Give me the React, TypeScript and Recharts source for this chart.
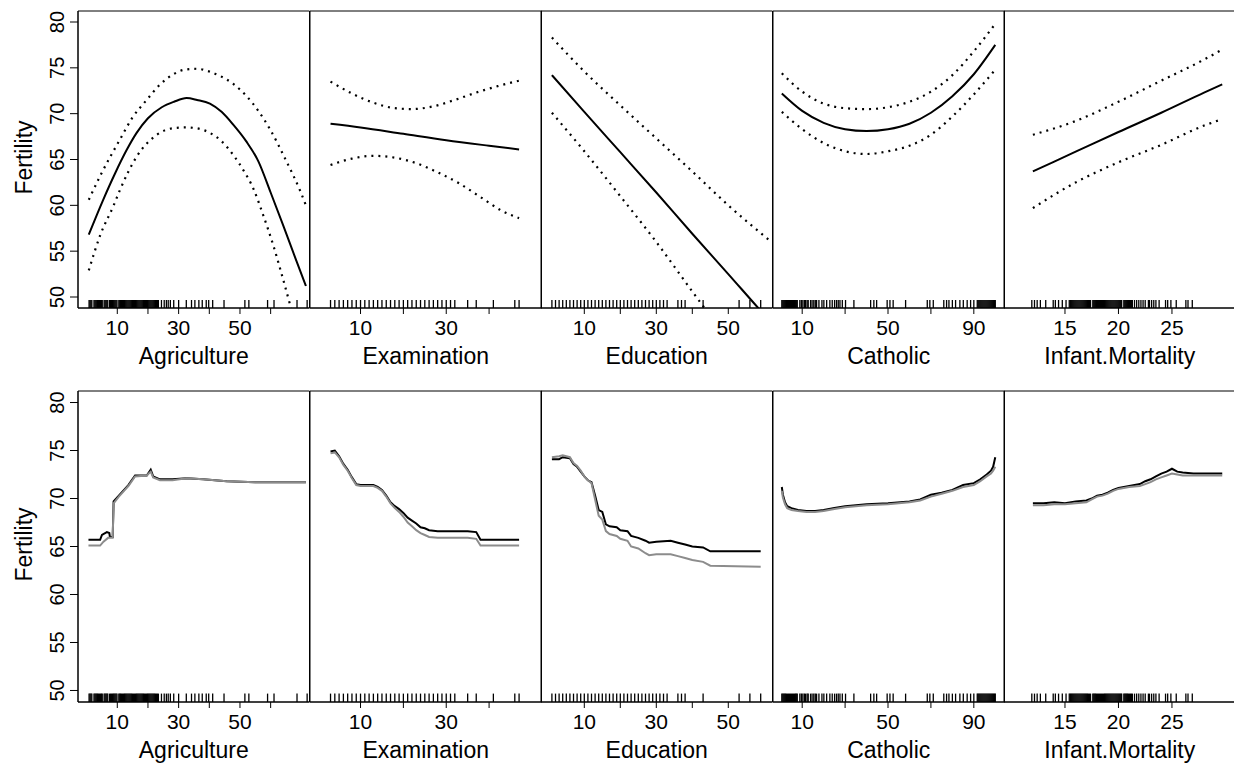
import React from 'react';
import { ComposedChart, Line, XAxis, YAxis, ReferenceArea, ReferenceLine, Label } from 'recharts';

type Pt = [number, number];

// ---------- axis content ----------
const yTicks = [50, 55, 60, 65, 70, 75, 80];
const yDomain: [number, number] = [48.8, 81.2];
const yTitle = 'Fertility';
const variableNames = ['Agriculture', 'Examination', 'Education', 'Catholic', 'Infant.Mortality'];
const xDomains: [number, number][] = [[-2.81, 72.67], [-1.79, 52.23], [-2.03, 62.28], [-3.61, 104.3], [9.3, 30.94]];
const xTicks = [[10, 20, 30, 40, 50, 60], [10, 20, 30, 40], [10, 20, 30, 40, 50], [10, 30, 50, 70, 90], [15, 20, 25]];
const xTickLabels = [[10, 30, 50], [10, 30], [10, 30, 50], [10, 50, 90], [15, 20, 25]];

// ---------- rug values ----------
const rugAgriculture = [0.8, 1.1, 1.4, 1.7, 2.4, 2.7, 3.0, 3.3, 3.6, 3.9, 4.2, 4.5, 4.8, 5.1, 5.7, 6.0, 6.3, 6.6, 6.9, 7.5, 7.8, 8.1, 8.4, 8.7, 9.0, 9.3, 9.6, 9.9, 10.5, 10.8, 11.1, 11.4, 11.7, 12.0, 12.3, 12.6, 12.9, 13.2, 13.5, 13.8, 14.1, 14.4, 14.7, 15.0, 15.3, 15.6, 15.9, 16.2, 16.5, 16.8, 17.1, 17.4, 17.7, 18.0, 18.3, 18.6, 18.9, 19.2, 19.5, 19.8, 20.1, 20.4, 20.7, 21.0, 21.3, 21.6, 21.9, 22.2, 22.5, 22.8, 23.1, 23.4, 24.4, 25.3, 26.0, 26.6, 27.3, 28.4, 30.0, 32.5, 34.2, 35.3, 36.6, 37.7, 39.0, 39.8, 41.1, 44.8, 51.6, 52.9, 59.0, 61.1, 68.6, 71.9];
const rugExamination = [3, 4, 5, 6, 7, 8, 9, 10, 11, 12, 13, 14, 15, 16, 17, 18, 19, 20, 21, 22, 23, 24, 25, 26, 27, 28, 29, 30, 31, 32, 35, 37, 41, 46, 47];
const rugEducation = [1, 2, 3, 4, 5, 6, 7, 8, 9, 10, 11, 12, 13, 14, 15, 16, 17, 18, 19, 20, 21, 22, 23, 24, 25, 26, 27, 28, 29, 30, 31, 32, 33, 36, 37, 38, 43, 53, 56, 59];
const rugCatholic = [0.5, 0.95, 1.4, 1.85, 2.3, 2.75, 3.2, 3.65, 4.1, 4.55, 5.0, 5.45, 5.9, 6.35, 6.8, 7.25, 7.7, 8.9, 9.6, 10.3, 11.0, 11.6, 12.3, 12.8, 13.9, 14.6, 15.4, 16.1, 16.7, 17.8, 19.2, 20.1, 21.4, 22.9, 24.0, 25.1, 26.0, 26.8, 27.6, 28.7, 30.2, 34.1, 41.9, 43.4, 44.7, 49.6, 50.9, 52.4, 58.2, 68.3, 69.5, 71.1, 76.0, 77.3, 78.4, 80.0, 81.5, 83.5, 85.1, 86.9, 88.5, 90.0, 91.6, 92.05, 92.5, 92.95, 93.4, 93.85, 94.3, 94.75, 95.2, 95.65, 96.1, 96.55, 97.0, 97.45, 97.9, 98.35, 98.8, 99.25, 99.7, 100.0];
const rugInfantMortality = [11.9, 12.15, 12.4, 12.7, 13.2, 13.9, 14.1, 14.4, 14.75, 15.1, 15.4, 15.5, 15.59, 15.68, 15.77, 15.86, 15.95, 16.04, 16.13, 16.22, 16.31, 16.4, 16.49, 16.58, 16.67, 16.76, 16.85, 16.94, 17.03, 17.12, 17.21, 17.3, 17.39, 17.6, 17.69, 17.78, 17.87, 17.96, 18.05, 18.14, 18.23, 18.32, 18.41, 18.5, 18.59, 18.68, 18.77, 18.86, 18.95, 19.04, 19.13, 19.22, 19.31, 19.4, 19.49, 19.58, 19.67, 19.76, 19.85, 19.94, 20.03, 20.12, 20.21, 20.3, 20.5, 20.59, 20.68, 20.77, 20.86, 20.95, 21.04, 21.13, 21.22, 21.3, 21.5, 21.7, 21.9, 22.1, 22.3, 22.5, 22.8, 22.9, 23.1, 23.3, 23.5, 23.8, 24.4, 24.6, 24.9, 25.4, 26.3, 26.5, 26.9];

// ---------- top row: fitted effect with bands ----------
const agriFit: Pt[] = [[0.7, 56.8], [5.4, 60.6], [9.3, 63.5], [13, 66], [16.3, 67.9], [20, 69.5], [24.5, 70.7], [28.5, 71.3], [32.6, 71.7], [36, 71.5], [40.2, 71.1], [44, 70.2], [47.8, 68.8], [52, 67.0], [56, 64.8], [60, 61.4], [64, 57.9], [68, 54.3], [71.5, 51.2]];
const agriUpper: Pt[] = [[0.7, 60.6], [4.4, 63.2], [10.9, 67.2], [15, 69.6], [19.6, 71.5], [24, 73.2], [28.3, 74.3], [32, 74.8], [35.9, 74.9], [40, 74.6], [43.6, 74.1], [48, 73.2], [52.2, 71.9], [56, 70.3], [59.8, 68.3], [65, 64.9], [69.6, 61.6], [71.5, 60.0]];
const agriLower: Pt[] = [[0.7, 52.9], [4.5, 56.8], [8.7, 59.9], [10.9, 61.7], [16.3, 65.3], [22.9, 67.7], [28, 68.4], [32.6, 68.5], [36, 68.4], [40.2, 67.9], [44, 67], [47.8, 65.5], [51, 63.9], [54.4, 61.8], [57.5, 59.0], [60.9, 55.6], [63.5, 52.6], [66.3, 49.2], [71.5, 42.5]];

const examFit: Pt[] = [[3, 68.9], [10, 68.5], [20, 67.8], [30, 67.1], [40, 66.5], [47, 66.1]];
const examUpper: Pt[] = [[3, 73.5], [8, 72.2], [13, 71.2], [18, 70.6], [22, 70.5], [27, 70.8], [32, 71.5], [37, 72.3], [42, 73.0], [47, 73.6]];
const examLower: Pt[] = [[3, 64.4], [8, 65.1], [13, 65.4], [18, 65.2], [23, 64.6], [28, 63.6], [33, 62.4], [38, 60.9], [43, 59.4], [47, 58.6]];

const eduFit: Pt[] = [[1, 74.2], [10, 70.2], [20, 65.8], [30, 61.4], [40, 56.9], [50, 52.5], [59, 48.5], [62, 47.2]];
const eduUpper: Pt[] = [[1, 78.3], [10, 74.6], [20, 70.9], [30, 67.3], [40, 63.7], [50, 60.0], [62, 56.0]];
const eduLower: Pt[] = [[1, 70.1], [10, 65.9], [20, 61.0], [30, 56.0], [40, 50.6], [50, 45.3], [62, 38.6]];

const cathFit: Pt[] = [[0.5, 72.2], [10, 70.3], [20, 69.0], [30, 68.3], [40, 68.1], [50, 68.3], [60, 68.9], [70, 70.1], [80, 71.9], [90, 74.3], [100, 77.5]];
const cathUpper: Pt[] = [[0.5, 74.4], [10, 72.4], [20, 71.1], [30, 70.6], [40, 70.5], [50, 70.7], [60, 71.3], [70, 72.4], [80, 74.2], [90, 76.8], [100, 79.8]];
const cathLower: Pt[] = [[0.5, 70.2], [10, 68.3], [20, 66.8], [30, 65.9], [40, 65.6], [50, 65.9], [60, 66.5], [70, 67.7], [80, 69.7], [90, 72.1], [100, 74.8]];

const infFit: Pt[] = [[12, 63.7], [16, 65.85], [20, 68.0], [24, 70.1], [28, 72.3], [29.7, 73.2]];
const infUpper: Pt[] = [[12, 67.7], [16, 69.2], [20, 71.3], [24, 73.6], [28, 75.9], [29.7, 77.0]];
const infLower: Pt[] = [[12, 59.7], [16, 62.5], [20, 64.7], [24, 66.6], [28, 68.7], [29.7, 69.4]];

// ---------- bottom row: two partial dependence curves ----------
const agriPdBlack: Pt[] = [[0.6, 65.7], [4.4, 65.7], [5.0, 66.2], [6.6, 66.5], [7.4, 66.4], [7.6, 66.0], [8.5, 66.0], [8.8, 69.7], [10.5, 70.3], [13.6, 71.4], [15.8, 72.4], [19.6, 72.4], [20.9, 73.0], [21.7, 72.3], [23.9, 72.0], [28, 72.0], [32.6, 72.1], [38, 72.0], [45.7, 71.8], [55, 71.7], [71.5, 71.7]];
const agriPdGray: Pt[] = [[0.6, 65.1], [4.4, 65.1], [5.5, 65.5], [7, 65.9], [8.5, 65.9], [8.8, 69.5], [10.5, 70.2], [13.6, 71.3], [15.8, 72.3], [19.6, 72.4], [20.9, 72.8], [21.7, 72.2], [23.9, 71.9], [28, 71.9], [32.6, 72.1], [38, 72.0], [45.7, 71.8], [55, 71.7], [71.5, 71.7]];

const examPdBlack: Pt[] = [[3, 74.9], [4, 75.0], [5, 74.4], [6, 73.6], [7, 73.0], [8, 72.2], [9, 71.5], [10, 71.4], [13, 71.4], [14, 71.2], [15, 70.9], [16, 70.3], [17, 69.6], [18, 69.2], [19, 68.9], [20, 68.5], [21, 68.0], [22, 67.7], [23, 67.4], [24, 67.0], [25, 66.9], [26, 66.7], [28, 66.6], [30, 66.6], [35, 66.6], [37, 66.5], [38, 65.7], [47, 65.7]];
const examPdGray: Pt[] = [[3, 74.7], [4, 74.8], [5, 74.3], [6, 73.5], [7, 72.9], [8, 72.1], [9, 71.4], [10, 71.3], [13, 71.3], [14, 71.1], [15, 70.8], [16, 70.2], [17, 69.5], [18, 69.0], [19, 68.6], [20, 68.1], [21, 67.5], [22, 67.1], [23, 66.7], [24, 66.4], [25, 66.2], [26, 66.0], [28, 65.9], [30, 65.9], [35, 65.9], [37, 65.8], [38, 65.1], [47, 65.1]];

const eduPdBlack: Pt[] = [[1, 74.1], [3, 74.1], [4, 74.3], [6, 74.2], [7, 73.6], [8, 73.3], [9, 72.8], [10, 72.3], [11, 71.9], [12, 71.7], [13, 70.3], [14, 68.8], [15, 68.6], [16, 67.3], [17, 67.1], [19, 67.0], [20, 66.7], [22, 66.6], [23, 66.1], [25, 65.9], [27, 65.6], [28, 65.4], [30, 65.5], [34, 65.6], [36, 65.4], [38, 65.2], [40, 65.0], [43, 64.9], [45, 64.5], [59, 64.5]];
const eduPdGray: Pt[] = [[1, 74.3], [3, 74.4], [4, 74.5], [6, 74.3], [7, 73.7], [8, 73.4], [9, 72.9], [10, 72.3], [11, 71.9], [12, 71.6], [13, 69.9], [14, 68.2], [15, 67.8], [16, 66.6], [17, 66.3], [19, 66.1], [20, 65.8], [22, 65.6], [23, 65.0], [25, 64.8], [27, 64.3], [28, 64.1], [30, 64.2], [34, 64.2], [36, 64.0], [38, 63.8], [40, 63.6], [43, 63.4], [45, 63.0], [59, 62.9]];

const cathPdBlack: Pt[] = [[0.5, 71.2], [1, 70.4], [2, 69.6], [3, 69.2], [5, 69.0], [8, 68.8], [12, 68.7], [16, 68.7], [20, 68.8], [25, 69.0], [30, 69.2], [35, 69.3], [40, 69.4], [50, 69.5], [60, 69.7], [65, 69.9], [70, 70.4], [75, 70.6], [80, 70.9], [85, 71.4], [90, 71.6], [93, 72.0], [96, 72.5], [98, 72.9], [99, 73.3], [99.5, 73.8], [100, 74.3]];
const cathPdGray: Pt[] = [[0.5, 70.8], [1, 70.1], [2, 69.4], [3, 69.0], [5, 68.8], [8, 68.7], [12, 68.6], [16, 68.6], [20, 68.7], [25, 68.9], [30, 69.1], [35, 69.2], [40, 69.3], [50, 69.4], [60, 69.6], [65, 69.8], [70, 70.2], [75, 70.5], [80, 70.8], [85, 71.2], [90, 71.4], [93, 71.8], [96, 72.3], [98, 72.6], [99, 72.9], [100, 73.3]];

const infPdBlack: Pt[] = [[12, 69.5], [13, 69.5], [14, 69.6], [15, 69.5], [16, 69.7], [17, 69.8], [17.5, 70.0], [18, 70.3], [18.5, 70.4], [19, 70.6], [19.5, 70.9], [20, 71.1], [20.5, 71.2], [21, 71.3], [22, 71.5], [22.5, 71.8], [23, 72.0], [23.5, 72.3], [24, 72.6], [24.5, 72.8], [25, 73.1], [25.5, 72.8], [26, 72.7], [27, 72.6], [29.7, 72.6]];
const infPdGray: Pt[] = [[12, 69.3], [13, 69.3], [14, 69.4], [15, 69.4], [16, 69.5], [17, 69.6], [17.5, 69.9], [18, 70.2], [18.5, 70.3], [19, 70.5], [19.5, 70.8], [20, 71.0], [20.5, 71.1], [21, 71.2], [22, 71.3], [22.5, 71.5], [23, 71.7], [23.5, 72.0], [24, 72.2], [24.5, 72.4], [25, 72.6], [25.5, 72.5], [26, 72.4], [27, 72.4], [29.7, 72.4]];

const rugs = [rugAgriculture, rugExamination, rugEducation, rugCatholic, rugInfantMortality];
const topFits = [agriFit, examFit, eduFit, cathFit, infFit];
const topUppers = [agriUpper, examUpper, eduUpper, cathUpper, infUpper];
const topLowers = [agriLower, examLower, eduLower, cathLower, infLower];
const bottomBlack = [agriPdBlack, examPdBlack, eduPdBlack, cathPdBlack, infPdBlack];
const bottomGray = [agriPdGray, examPdGray, eduPdGray, cathPdGray, infPdGray];

// ---------- layout ----------
const FONT = '"Liberation Sans", Arial, Helvetica, sans-serif';
const PANEL_LEFT0 = 78;
const PANEL_W = 231.5;
const PAD = 20;
const MARGIN_TOP = 5;
const AXIS_H = 62;
const ROWS = [{ top: 6, plotH: 297 }, { top: 386, plotH: 311 }];
const RUG_FRACTION = 0.027; // rug tick length as a fraction of the y range

const toPts = (a: Pt[]) => a.map(([x, y]) => ({ x, y }));

function Panel({ row, i }: { row: number; i: number }) {
  const first = i === 0;
  const left = first ? 0 : PANEL_LEFT0 + i * PANEL_W - PAD;
  const width = first ? PANEL_LEFT0 + PANEL_W + PAD : PANEL_W + 2 * PAD;
  const height = MARGIN_TOP + ROWS[row].plotH + AXIS_H;
  const dom = xDomains[i];
  const labels = xTickLabels[i];
  const name = variableNames[i];
  const rugTop = yDomain[0] + (yDomain[1] - yDomain[0]) * RUG_FRACTION;

  const xTick = (p: any) => {
    const v = p.payload?.value;
    if (!labels.includes(v)) return <g />;
    return (
      <text x={p.x} y={p.y + 19} textAnchor="middle" fontSize={21} fontFamily={FONT} fill="#000">
        {v}
      </text>
    );
  };
  const yTick = (p: any) => (
    <text
      x={0}
      y={0}
      transform={`translate(${p.x - 4.5},${p.y}) rotate(-90)`}
      textAnchor="middle"
      fontSize={20}
      fontFamily={FONT}
      fill="#000"
    >
      {p.payload?.value}
    </text>
  );
  const xTitle = (p: any) => {
    const vb = p.viewBox || { x: PAD, y: MARGIN_TOP + ROWS[row].plotH, width: PANEL_W };
    return (
      <text x={vb.x + vb.width / 2} y={vb.y + 56} textAnchor="middle" fontSize={23} fontFamily={FONT} fill="#000">
        {name}
      </text>
    );
  };
  const yTitleRender = (p: any) => {
    const vb = p.viewBox || { x: 0, y: MARGIN_TOP, width: PANEL_LEFT0, height: ROWS[row].plotH };
    const cy = vb.y + vb.height / 2 - 2;
    return (
      <text x={0} y={0} transform={`translate(31.5,${cy}) rotate(-90)`} textAnchor="middle" fontSize={23} fontFamily={FONT} fill="#000">
        {yTitle}
      </text>
    );
  };

  return (
    <div style={{ position: 'absolute', left, top: ROWS[row].top }}>
      <ComposedChart
        width={width}
        height={height}
        margin={{ top: MARGIN_TOP, right: PAD, bottom: 0, left: first ? 0 : PAD }}
      >
        <XAxis
          type="number"
          dataKey="x"
          domain={dom}
          allowDataOverflow
          ticks={xTicks[i]}
          interval={0}
          tickSize={6}
          tickMargin={2}
          height={AXIS_H}
          tick={xTick}
          axisLine={{ stroke: '#000', strokeWidth: 1 }}
          tickLine={{ stroke: '#000', strokeWidth: 1 }}
          label={<Label content={xTitle} />}
        />
        <YAxis
          type="number"
          dataKey="y"
          domain={yDomain}
          allowDataOverflow
          ticks={yTicks}
          interval={0}
          hide={!first}
          width={first ? PANEL_LEFT0 : 0}
          tickSize={8}
          tickMargin={2}
          tick={yTick}
          axisLine={{ stroke: '#000', strokeWidth: 1 }}
          tickLine={{ stroke: '#000', strokeWidth: 1 }}
          label={first ? <Label content={yTitleRender} /> : undefined}
        />
        <ReferenceArea
          x1={dom[0]}
          x2={dom[1]}
          y1={yDomain[0]}
          y2={yDomain[1]}
          fill="none"
          fillOpacity={0}
          stroke="#000"
          strokeWidth={1}
          ifOverflow="visible"
        />
        {rugs[i].map((v, k) => (
          <ReferenceLine
            key={`rug-${k}`}
            segment={[{ x: v, y: yDomain[0] }, { x: v, y: rugTop }]}
            stroke="#000"
            strokeWidth={1.3}
            ifOverflow="visible"
          />
        ))}
        {row === 0 && (
          <Line data={toPts(topUppers[i])} dataKey="y" type="monotone" stroke="#000" strokeWidth={2.2} strokeDasharray="2 5" dot={false} isAnimationActive={false} />
        )}
        {row === 0 && (
          <Line data={toPts(topLowers[i])} dataKey="y" type="monotone" stroke="#000" strokeWidth={2.2} strokeDasharray="2 5" dot={false} isAnimationActive={false} />
        )}
        {row === 0 && (
          <Line data={toPts(topFits[i])} dataKey="y" type="monotone" stroke="#000" strokeWidth={2} dot={false} isAnimationActive={false} />
        )}
        {row === 1 && (
          <Line data={toPts(bottomBlack[i])} dataKey="y" type="linear" stroke="#000" strokeWidth={2} dot={false} isAnimationActive={false} />
        )}
        {row === 1 && (
          <Line data={toPts(bottomGray[i])} dataKey="y" type="linear" stroke="#8c8c8c" strokeWidth={2} dot={false} isAnimationActive={false} />
        )}
      </ComposedChart>
    </div>
  );
}

export default function App() {
  return (
    <div
      style={{
        position: 'absolute',
        left: 0,
        top: 0,
        width: 1234,
        height: 765,
        overflow: 'hidden',
        background: '#fff',
      }}
    >
      {[0, 1].map((row) => [0, 1, 2, 3, 4].map((i) => <Panel key={`${row}-${i}`} row={row} i={i} />))}
    </div>
  );
}
